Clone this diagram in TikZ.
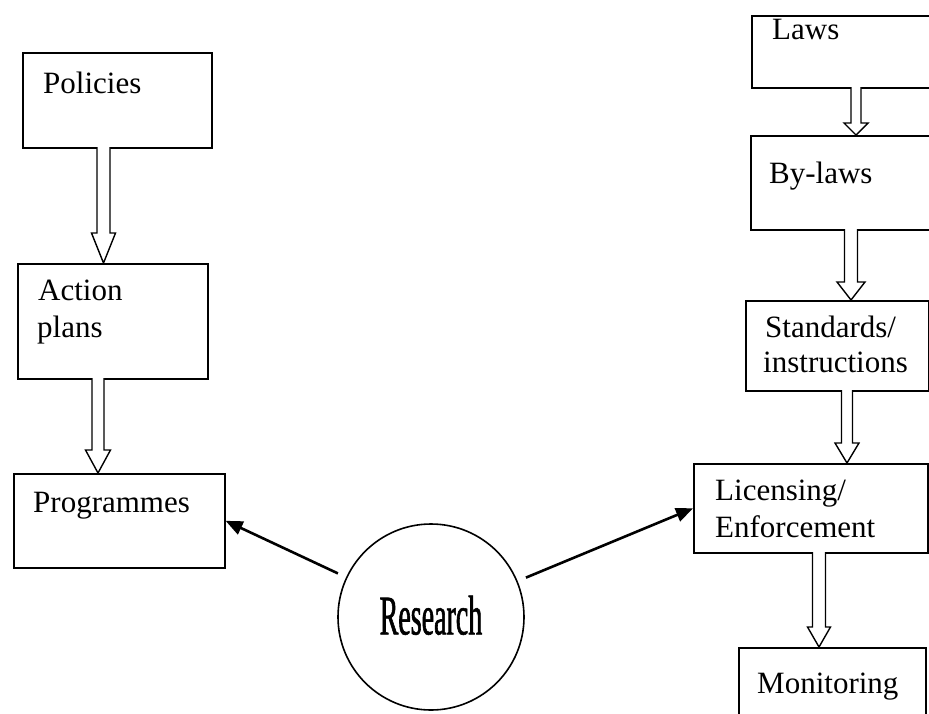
\documentclass[tikz,border=0pt]{standalone}
\usepackage{fontspec}
\usepackage{graphicx}
\setmainfont{Liberation Serif}
\newfontfamily\researchfont[FakeStretch=0.5,FakeBold=1]{Liberation Serif}
\usetikzlibrary{arrows.meta}
\tikzset{
  box/.style={draw, line width=1.6pt, rectangle, inner sep=0pt, anchor=north west},
  lbl/.style={anchor=base west, inner sep=0pt, font=\fontsize{31}{36}\selectfont},
  blk/.style={draw, line width=1.4pt, fill=white, line join=miter},
  rarrow/.style={line width=2.6pt, -{Triangle[length=17pt,width=14pt]}, shorten <=9pt},
}
% #1 x centre, #2 top y, #3 y where head starts, #4 tip y, #5 shaft half width, #6 head half width
\newcommand\blockarr[6]{%
  \draw[blk] (#1-#5,#2) -- (#1-#5,#3) -- (#1-#6,#3) -- (#1,#4) -- (#1+#6,#3) -- (#1+#5,#3) -- (#1+#5,#2);}
\begin{document}
\begin{tikzpicture}[x=1pt,y=-1pt]
\useasboundingbox (0,0) rectangle (929,713);
\clip (0,0) rectangle (929,713);
\fill[white] (0,0) rectangle (929,713);

% left column
\node[box, minimum width=189pt, minimum height=95pt] (policies) at (22,52) {};
\node[box, minimum width=190pt, minimum height=115pt] (action) at (17,263) {};
\node[box, minimum width=211pt, minimum height=94pt] (programmes) at (13,473) {};
\node[lbl] (tpol) at (43,93) {Policies};
\node[lbl] (tact1) at (38,300) {Action};
\node[lbl] (tact2) at (37,337) {plans};
\node[lbl] (tprog) at (33,512) {Programmes};

% right column
\node[box, minimum width=190pt, minimum height=72pt] (laws) at (751,15) {};
\node[box, minimum width=190pt, minimum height=94pt] (bylaws) at (750,135) {};
\node[box, minimum width=183pt, minimum height=90pt] (standards) at (745,300) {};
\node[box, minimum width=234pt, minimum height=89pt] (licensing) at (693,463) {};
\node[box, minimum width=187pt, minimum height=80pt] (monitoring) at (738,647) {};
\node[lbl] (tlaws) at (772,39) {Laws};
\node[lbl] (tbyl) at (769,183) {By-laws};
\node[lbl] (tstd1) at (765,337) {Standards/};
\node[lbl] (tstd2) at (763,372) {instructions};
\node[lbl] (tlic1) at (715,500) {Licensing/};
\node[lbl] (tlic2) at (715,537) {Enforcement};
\node[lbl] (tmon) at (757,693) {Monitoring};

% block arrows
\blockarr{103.5}{147}{233}{263}{6.5}{12}
\blockarr{98}{378}{450}{473}{6}{12.5}
\blockarr{856}{87}{123}{135}{5}{12}
\blockarr{851}{229}{282}{300}{6.5}{14}
\blockarr{847}{390}{443}{463}{5.5}{12}
\blockarr{819}{552}{627}{647}{6.5}{11.5}

% research
\node[circle, draw, line width=1.6pt, minimum size=186pt, inner sep=0pt] (research) at (431,617)
  {\raisebox{4pt}{\researchfont\fontsize{56}{60}\selectfont Research}};
\draw[rarrow] (research) -- (programmes.east);
\draw[rarrow] (research) -- (licensing.west);
\end{tikzpicture}
\end{document}
